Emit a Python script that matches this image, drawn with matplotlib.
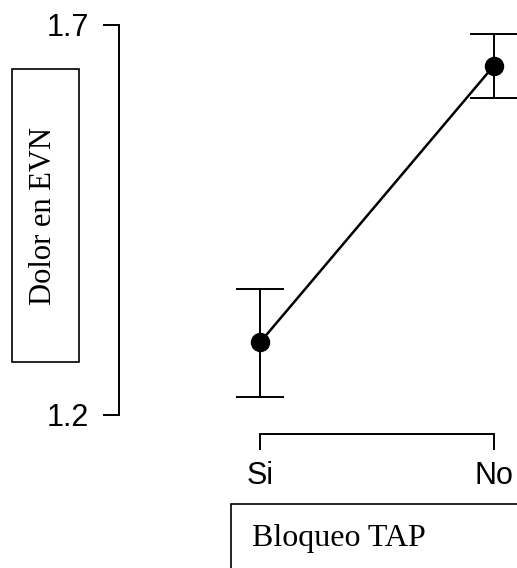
import matplotlib
matplotlib.use("Agg")
import matplotlib.pyplot as plt
from matplotlib.patches import Rectangle

categories = ["Si", "No"]
means = [1.293, 1.648]
lower = [1.223, 1.607]
upper = [1.362, 1.689]
yticks = [1.2, 1.7]
ytick_labels = ["1.2", "1.7"]
ylabel = "Dolor en EVN"
xlabel = "Bloqueo TAP"

W, H = 517, 568
fig = plt.figure(figsize=(W / 100, H / 100), dpi=100)

def fx(px):
    return px / W

def fy(py):
    return 1 - py / H

# axes: x pixels 119..517, y pixels 25..415
ax = fig.add_axes([fx(119), fy(415), fx(517) - fx(119), fy(25) - fy(415)])
x = list(range(len(categories)))
ax.set_xlim(-141 / 234, (517 - 260) / 234)
ax.set_ylim(1.2, 1.7)

yerr = [[m - l for m, l in zip(means, lower)], [u - m for m, u in zip(means, upper)]]
ax.errorbar(x, means, yerr=yerr, fmt="none", ecolor="black", elinewidth=1.4,
            capsize=17, capthick=1.4, clip_on=False, zorder=2)
ax.plot(x, means, color="black", linewidth=1.8, marker="o", markersize=13,
        markerfacecolor="black", clip_on=False, zorder=3)

for s in ["top", "right"]:
    ax.spines[s].set_visible(False)
ax.spines["left"].set_bounds(1.2, 1.7)
ax.spines["left"].set_linewidth(1.4)
ax.spines["bottom"].set_position(("outward", 19 * 0.72))
ax.spines["bottom"].set_bounds(0, 1)
ax.spines["bottom"].set_linewidth(1.4)

ax.set_yticks(yticks)
ax.set_yticklabels(ytick_labels)
ax.set_xticks(x)
ax.set_xticklabels(categories)
ax.tick_params(axis="both", direction="out", length=11.5, width=1.4,
               labelsize=22, pad=10)
ax.tick_params(axis="x", pad=8)
for lab in ax.get_xticklabels() + ax.get_yticklabels():
    lab.set_fontfamily("Liberation Sans")

# y label box
fig.patches.append(Rectangle((fx(12), fy(362)), fx(79) - fx(12), fy(69) - fy(362),
                             transform=fig.transFigure, fill=False,
                             edgecolor="black", linewidth=1.2))
fig.text(fx(44), fy(216), ylabel, rotation=90, ha="center", va="center",
         fontsize=22, family="Liberation Serif")

# x label box
fig.patches.append(Rectangle((fx(231), fy(580)), fx(530) - fx(231), fy(504) - fy(580),
                             transform=fig.transFigure, fill=False,
                             edgecolor="black", linewidth=1.2, clip_on=False))
fig.text(fx(252), fy(546), xlabel, ha="left", va="baseline",
         fontsize=23, family="Liberation Serif")

fig.savefig("out.png", dpi=100)
